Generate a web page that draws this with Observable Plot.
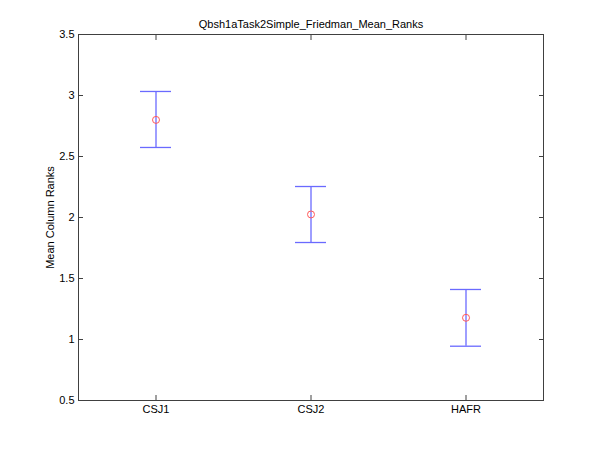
<!DOCTYPE html>
<html>
<head>
<meta charset="utf-8">
<script src="https://cdn.jsdelivr.net/npm/d3@7"></script>
<script src="https://cdn.jsdelivr.net/npm/@observablehq/plot@0.6"></script>
<style>
  html, body { margin: 0; padding: 0; background: #fff; }
  svg { font-family: "Liberation Sans", Arial, sans-serif; }
</style>
</head>
<body>
<div id="chart"></div>
<script>
const categories = ["CSJ1", "CSJ2", "HAFR"];
const meanRanks = [2.80, 2.025, 1.178];
const lowerBounds = [2.574, 1.795, 0.945];
const upperBounds = [3.033, 2.254, 1.410];
const yTicks = [0.5, 1, 1.5, 2, 2.5, 3, 3.5];
const xTicks = [1, 2, 3];
const capHalfWidth = 0.1;
const title = "Qbsh1aTask2Simple_Friedman_Mean_Ranks";

const data = categories.map((c, i) => ({
  name: c, pos: i + 1, mean: meanRanks[i], lo: lowerBounds[i], hi: upperBounds[i]
}));

const axisColor = "#404040";
const lineColor = "#6a6aff";
const markerColor = "#ff5a5a";

const chart = Plot.plot({
  width: 600,
  height: 450,
  marginLeft: 78,
  marginRight: 57,
  marginTop: 34,
  marginBottom: 50,
  style: {fontSize: "11px", fontFamily: "Liberation Sans, Arial, sans-serif", color: "#000", background: "#fff"},
  x: {domain: [0.5, 3.5]},
  y: {domain: [0.5, 3.5]},
  marks: [
    Plot.frame({stroke: axisColor, strokeWidth: 1}),
    Plot.axisY(yTicks, {anchor: "left", tickSize: -5, tickPadding: 9, stroke: axisColor, fill: "#000",
      tickFormat: d => String(d), label: "Mean Column Ranks", labelAnchor: "center", labelArrow: "none", labelOffset: 32}),
    Plot.axisY(yTicks, {anchor: "right", tickSize: -5, stroke: axisColor, tickFormat: () => "", label: null}),
    Plot.axisX(xTicks, {anchor: "bottom", tickSize: -5, tickPadding: 10, stroke: axisColor, fill: "#000",
      tickFormat: d => categories[d - 1], label: null}),
    Plot.axisX(xTicks, {anchor: "top", tickSize: -5, stroke: axisColor, tickFormat: () => "", label: null}),
    Plot.ruleX(data, {x: "pos", y1: "lo", y2: "hi", stroke: lineColor, strokeWidth: 1.3}),
    Plot.ruleY(data, {y: "lo", x1: d => d.pos - capHalfWidth, x2: d => d.pos + capHalfWidth, stroke: lineColor, strokeWidth: 1.3}),
    Plot.ruleY(data, {y: "hi", x1: d => d.pos - capHalfWidth, x2: d => d.pos + capHalfWidth, stroke: lineColor, strokeWidth: 1.3}),
    Plot.dot(data, {x: "pos", y: "mean", r: 3.5, stroke: markerColor, strokeWidth: 1, fill: "none"}),
    Plot.text([title], {frameAnchor: "top", lineAnchor: "bottom", dy: -7, text: d => d, fill: "#000", fontSize: 11})
  ]
});
document.getElementById("chart").appendChild(chart);
</script>
</body>
</html>
